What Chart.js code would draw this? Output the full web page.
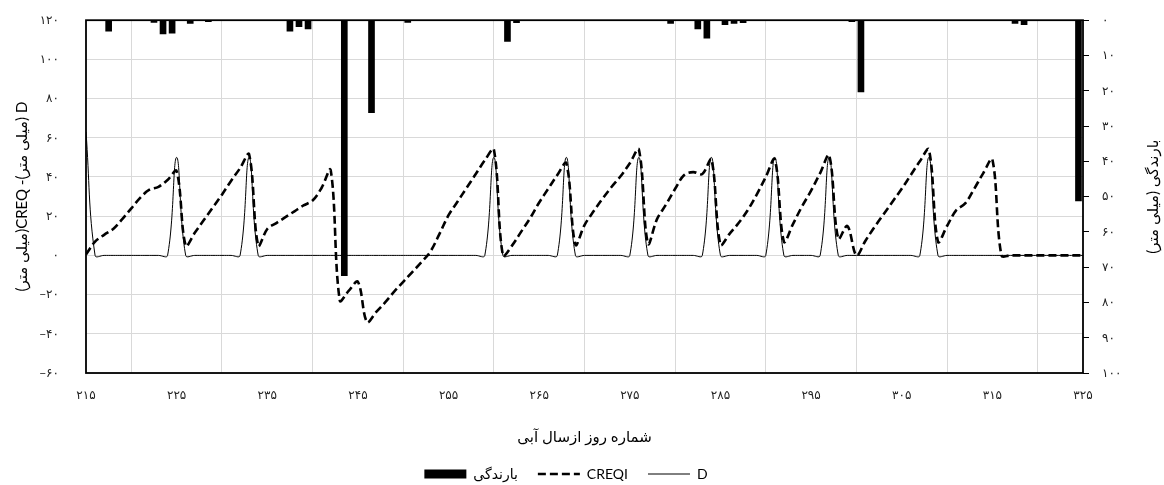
<!DOCTYPE html>
<html>
<head>
<meta charset="utf-8">
<script src="https://cdn.jsdelivr.net/npm/chart.js@4/dist/chart.umd.min.js"></script>
<style>
  html, body { margin: 0; padding: 0; background: #fff; }
  #wrap { width: 1164px; height: 485px; }
</style>
</head>
<body>
<div id="wrap"><canvas id="chart" width="1164" height="485"></canvas></div>
<script>
// day of irrigation season, first value of each daily series
const FIRST_DAY = 215;

// CREQI (mm), one value per day 215..325
const creqi = [
  0.5, 7, 10.5, 13.5, 18.5, 24, 29.5, 33.5, 35, 38.5,      // 215-224
  43, 5, 11.5, 18, 24.5, 31, 38, 44.5, 51.5, 5,            // 225-234
  13.5, 16.5, 19.5, 22.5, 25.5, 28, 34.5, 43.5, -23, -18,  // 235-244
  -13.5, -34, -29, -24, -18.5, -13.5, -8.5, -3.5, 2, 11,   // 245-254
  20.5, 27.5, 34.5, 41.5, 48.5, 54, 0, 5, 12, 19,          // 255-264
  27, 34, 41, 47, 5.5, 15.5, 22.5, 29, 35, 40.5,           // 265-274
  47, 54, 6, 18.5, 26, 34, 41, 42.5, 41.5, 49,             // 275-284
  5.5, 11, 16.5, 23, 31, 40, 49, 7, 16, 25,                // 285-294
  33, 42, 51, 8.5, 15, 0, 7.5, 14.5, 21, 27.5,             // 295-304
  34, 41, 48, 54, 7, 15, 23, 26.5, 34, 42,                 // 305-314
  49, 0, 0, 0, 0, 0, 0, 0, 0, 0,                           // 315-324
  0                                                        // 325
];

// D (mm), one value per day 215..325
const dDepth = [
  63, 0, 0, 0, 0, 0, 0, 0, 0, 0,
  50, 0, 0, 0, 0, 0, 0, 0, 50, 0,
  0, 0, 0, 0, 0, 0, 0, 0, 0, 0,
  0, 0, 0, 0, 0, 0, 0, 0, 0, 0,
  0, 0, 0, 0, 0, 50, 0, 0, 0, 0,
  0, 0, 0, 50, 0, 0, 0, 0, 0, 0,
  0, 50, 0, 0, 0, 0, 0, 0, 0, 50,
  0, 0, 0, 0, 0, 0, 50, 0, 0, 0,
  0, 0, 50, 0, 0, 0, 0, 0, 0, 0,
  0, 0, 0, 50, 0, 0, 0, 0, 0, 0,
  0, 0, 0, 0, 0, 0, 0, 0, 0, 0,
  0
];

// rainfall (mm) on the days it fell
const rainDays = [217, 222, 223, 224, 226, 228, 237, 238, 239, 243, 246, 250, 261,
                  262, 279, 282, 283, 285, 286, 287, 299, 300, 317, 318, 324];
const rainMm   = [3.1, 0.6, 3.9, 3.7, 0.9, 0.4, 3.1, 1.8, 2.5, 72.4, 26.2, 0.6, 6.0,
                  0.7, 0.9, 2.5, 5.1, 1.3, 0.9, 0.7, 0.4, 20.3, 0.9, 1.3, 51.2];

const xTicks = [215, 225, 235, 245, 255, 265, 275, 285, 295, 305, 315, 325];

const labels = {
  rain: 'بارندگی',
  creqi: 'CREQI',
  d: 'D',
  xTitle: 'شماره روز ازسال آبی',
  yTitle: '(میلی متر)CREQ -(میلی متر) D',
  y2Title: '\u200Fبارندگی (میلی متر)\u200F'
};

// excel draws the column series between category ticks
const BAR_SHIFT = 0.5;

const FONT = "Lato, 'DejaVu Sans', sans-serif";
const faDigits = '۰۱۲۳۴۵۶۷۸۹';
const toFa = v => String(v).replace(/-/g, '−').replace(/\d/g, c => faDigits[+c]);

const frame = {
  id: 'frame',
  afterLayout(chart) {
    // the legend row sits a little left of centre in the original
    chart.legend.left -= 16;
    chart.legend.right -= 16;
  },
  afterDatasetsDraw(chart) {
    const { ctx, chartArea: a } = chart;
    ctx.save();
    ctx.strokeStyle = '#000';
    ctx.lineWidth = 1.8;
    ctx.strokeRect(a.left, a.top, a.right - a.left, a.bottom - a.top);
    ctx.restore();
  },
  afterDraw(chart) {
    // right title reads bottom to top, like the left one
    const { ctx, chartArea: a } = chart;
    ctx.save();
    ctx.translate(1153, (a.top + a.bottom) / 2);
    ctx.rotate(-Math.PI / 2);
    ctx.font = '15px ' + FONT;
    ctx.fillStyle = '#000';
    ctx.textAlign = 'center';
    ctx.textBaseline = 'middle';
    ctx.fillText(labels.y2Title, 0, 0);
    ctx.restore();
  }
};

// legend items should show the dataset line style, not the point style
const legendLabels = chart => {
  const items = Chart.defaults.plugins.legend.labels.generateLabels(chart);
  return items.map(item => {
    const ds = chart.data.datasets[item.datasetIndex];
    if (ds.type !== 'bar') {
      item.lineDash = ds.borderDash || [];
      item.lineWidth = ds.borderWidth;
      item.strokeStyle = ds.borderColor;
    }
    return item;
  });
};

new Chart(document.getElementById('chart'), {
  type: 'line',
  data: {
    datasets: [
      {
        type: 'bar',
        label: labels.rain,
        data: rainDays.map((d, i) => ({ x: d + BAR_SHIFT, y: rainMm[i] })),
        yAxisID: 'y2',
        backgroundColor: '#000',
        borderWidth: 0,
        barThickness: 6,
        pointStyle: 'rect'
      },
      {
        label: labels.creqi,
        data: creqi.map((v, i) => ({ x: FIRST_DAY + i, y: v })),
        yAxisID: 'y',
        borderColor: '#000',
        backgroundColor: '#000',
        borderWidth: 2.6,
        borderDash: [8, 4],
        pointRadius: 0,
        pointStyle: 'line',
        tension: 0.35,
        fill: false
      },
      {
        label: labels.d,
        data: dDepth.map((v, i) => ({ x: FIRST_DAY + i, y: v })),
        yAxisID: 'y',
        borderColor: '#000',
        backgroundColor: '#000',
        borderWidth: 1,
        pointRadius: 0,
        pointStyle: 'line',
        tension: 0.4,
        fill: false
      }
    ]
  },
  options: {
    responsive: false,
    animation: false,
    events: [],
    layout: { padding: { top: 20, bottom: -6, left: 0, right: 0 } },
    plugins: {
      legend: {
        position: 'bottom',
        labels: {
          usePointStyle: true,
          pointStyleWidth: 42,
          boxHeight: 9,
          padding: 20,
          color: '#000',
          font: { family: FONT, size: 14 },
          generateLabels: legendLabels
        }
      },
      tooltip: { enabled: false }
    },
    scales: {
      x: {
        type: 'linear',
        min: 215,
        max: 325,
        offset: false,
        afterBuildTicks: s => { s.ticks = xTicks.map(v => ({ value: v })); },
        afterFit: s => { s.height = 74; },
        ticks: {
          padding: 15,
          color: '#222',
          font: { family: FONT, size: 12 },
          callback: v => toFa(v)
        },
        grid: { color: '#d9d9d9', lineWidth: 1, drawTicks: false },
        border: { display: false },
        title: {
          display: true,
          text: labels.xTitle,
          color: '#000',
          font: { family: FONT, size: 15 },
          padding: { top: 0, bottom: 1 }
        }
      },
      y: {
        position: 'left',
        min: -60,
        max: 120,
        afterFit: s => { s.width = 86; },
        ticks: {
          stepSize: 20,
          padding: 13,
          color: '#222',
          font: { family: FONT, size: 12 },
          callback: v => toFa(v)
        },
        // invisible tick marks only push the labels away from the frame
        grid: { color: '#d9d9d9', lineWidth: 1, drawTicks: true, tickLength: 14, tickColor: 'rgba(0,0,0,0)' },
        border: { display: false },
        title: {
          display: true,
          text: labels.yTitle,
          color: '#000',
          font: { family: FONT, size: 15 },
          padding: { top: 13, bottom: 0 }
        }
      },
      y2: {
        position: 'right',
        min: 0,
        max: 100,
        reverse: true,
        afterFit: s => { s.width = 81; },
        ticks: {
          stepSize: 10,
          padding: 13,
          color: '#222',
          font: { family: FONT, size: 12 },
          callback: v => toFa(v)
        },
        grid: { drawOnChartArea: false, drawTicks: true, tickLength: 6, color: '#000', lineWidth: 1 },
        border: { display: false }
      }
    }
  },
  plugins: [frame]
});
</script>
</body>
</html>
